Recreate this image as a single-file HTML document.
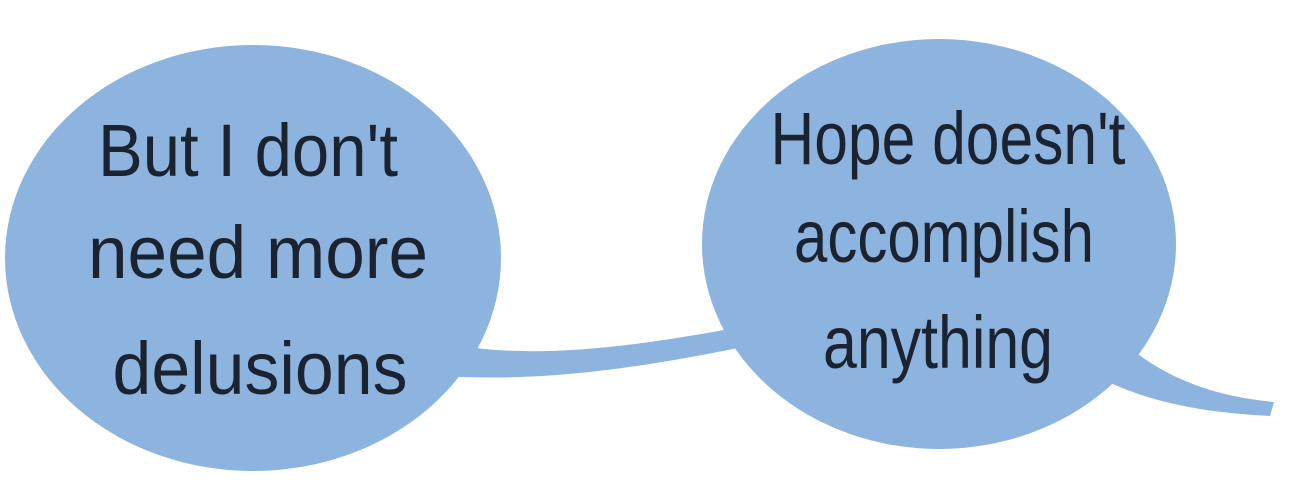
<!DOCTYPE html>
<html><head><meta charset="utf-8"><style>
html,body{margin:0;padding:0;background:#fff;}
svg{display:block}
text{font-family:"Liberation Sans",sans-serif;fill:#1b2330;font-size:74px;text-anchor:middle}
</style></head><body>
<svg width="1290" height="500" viewBox="0 0 1290 500">
<g fill="#8db3df">
<ellipse cx="253" cy="258" rx="248" ry="213"/>
<ellipse cx="939" cy="244" rx="237" ry="205"/>
<path d="M440 342 C520 360 620 350 745 326 L748 346 C630 370 540 382 440 376 Z"/>
<path d="M1110 330 C1150 370 1200 395 1274 402 L1270 416 C1190 412 1140 398 1100 378 Z"/>
</g>
<text x="248" y="176" textLength="300" lengthAdjust="spacingAndGlyphs">But I don't</text>
<text x="258" y="278" textLength="340" lengthAdjust="spacingAndGlyphs">need more</text>
<text x="260" y="394" textLength="295" lengthAdjust="spacingAndGlyphs">delusions</text>
<text x="948" y="164" textLength="355" lengthAdjust="spacingAndGlyphs">Hope doesn't</text>
<text x="944" y="262" textLength="300" lengthAdjust="spacingAndGlyphs">accomplish</text>
<text x="938" y="368" textLength="230" lengthAdjust="spacingAndGlyphs">anything</text>
</svg>
</body></html>
